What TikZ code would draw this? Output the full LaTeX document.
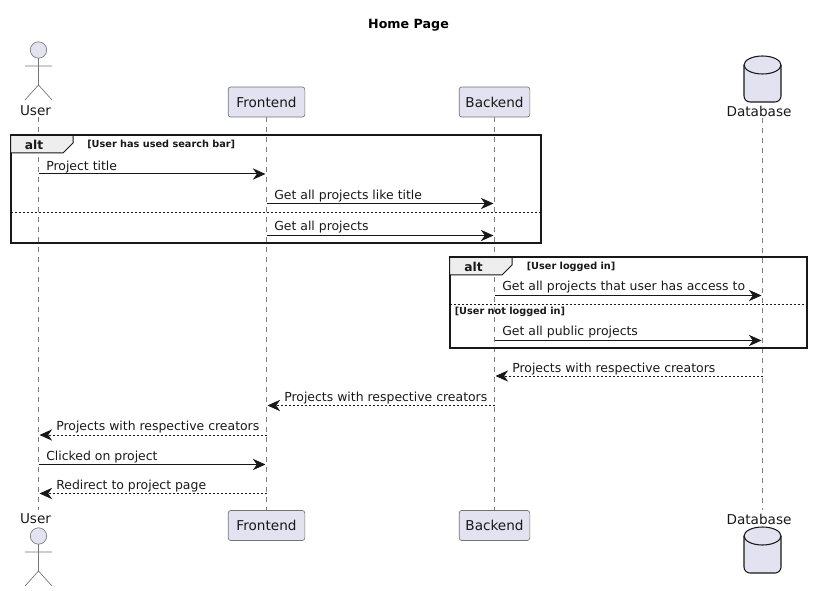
\documentclass[tikz,border=0pt]{standalone}
\usepackage{fontspec}
\setmainfont{DejaVu Sans}
\usetikzlibrary{arrows.meta,positioning}
\definecolor{Lilac}{HTML}{E2E2F0}
\definecolor{Ink}{HTML}{181818}
\definecolor{TabGrey}{HTML}{EEEEEE}
\begin{document}
\begin{tikzpicture}[x=0.75pt,y=-0.75pt,
  part/.style={rounded corners=2pt, fill=Lilac, draw=Ink!60, line width=0.5pt,
               minimum height=22.6pt, inner sep=0pt,
               font=\fontsize{10.2pt}{12pt}\selectfont, text=Ink},
  who/.style={inner sep=0pt, font=\fontsize{10.2pt}{12pt}\selectfont, text=Ink},
  body/.style={draw=Ink!60, line width=0.5pt},
  drum/.style={draw=Ink, fill=Lilac, line width=0.8pt},
  life/.style={draw=Ink!55, line width=0.5pt, dash pattern=on 3.75pt off 3.75pt},
  msg/.style={draw=Ink, line width=0.75pt, shorten >=0.75pt,
              -{Stealth[length=9.5pt,width=8.5pt,inset=3pt]}},
  back/.style={msg, dash pattern=on 1.5pt off 1.5pt},
  lbl/.style={anchor=base west, inner sep=0pt,
              font=\fontsize{9.33pt}{11pt}\selectfont, text=Ink},
  frame/.style={draw=Ink, line width=1.5pt},
  tab/.style={draw=Ink, fill=TabGrey, line width=0.75pt},
  split/.style={draw=Ink, line width=0.6pt, dash pattern=on 1.5pt off 1.5pt},
  guard/.style={anchor=base west, inner sep=0pt,
                font=\fontsize{7.3pt}{9pt}\selectfont\bfseries, text=Ink},
  altname/.style={inner sep=0pt, font=\fontsize{9.2pt}{11pt}\selectfont\bfseries, text=Ink}]
  \useasboundingbox (0,0) rectangle (813,591);
  \node[font=\fontsize{9.5pt}{11pt}\selectfont\bfseries, text=black] (title) at (408.5,25) {Home Page};

  % heads
  \node[who] (userTag) at (35.5,111) {User};
  \node[part, minimum width=57.5pt] (frontTag) at (266.5,102) {Frontend};
  \node[part, minimum width=53pt] (backTag) at (494.5,102) {Backend};
  \node[who] (dbTag) at (759,111) {Database};
  % feet
  \node[who] (userEnd) at (35.5,519) {User};
  \node[part, minimum width=57.5pt] (frontEnd) at (266.5,525.5) {Frontend};
  \node[part, minimum width=53pt] (backEnd) at (494.5,525.5) {Backend};
  \node[who] (dbEnd) at (759,519) {Database};

  % lifelines
  \coordinate (userTop) at (38.5,117);
  \coordinate (userBot) at (38.5,510);
  \coordinate (dbTop) at (762.5,118);
  \coordinate (dbBot) at (762.5,510);
  \draw[life] (userTop) -- (userBot);
  \draw[life] (frontTag.south) -- (frontEnd.north);
  \draw[life] (backTag.south) -- (backEnd.north);
  \draw[life] (dbTop) -- (dbBot);

  % actors
  \foreach \yy in {50,536}{
    \draw[body, fill=Lilac] (38.5,\yy) circle (8.2);
    \draw[body] (38.5,\yy+8.2) -- (38.5,\yy+35) (25,\yy+16) -- (52,\yy+16)
                (25,\yy+50) -- (38.5,\yy+35) -- (52,\yy+50);
  }
  % databases
  \foreach \yy in {56,527}{
    \draw[drum] (744,\yy+9) arc[start angle=180, end angle=360, x radius=18.5, y radius=9]
                -- (781,\yy+40) arc[start angle=0, end angle=90, x radius=6, y radius=6]
                -- (750,\yy+46) arc[start angle=90, end angle=180, x radius=6, y radius=6] -- cycle;
    \draw[drum, fill=none] (744,\yy+9) arc[start angle=180, end angle=0, x radius=18.5, y radius=9];
  }

  % first alt
  \draw[frame] (10.5,135.5) rectangle (540.5,243.5);
  \draw[split] (10.5,212) -- (540.5,212);
  \draw[tab] (10.5,135.5) -- (73,135.5) -- (73,143) -- (63,153) -- (10.5,153) -- cycle;
  \node[altname] (altA) at (34,145) {alt};
  \node[guard] (guardA) at (87,148) {[User has used search bar]};

  % second alt
  \draw[frame] (449.5,257.5) rectangle (807,348);
  \draw[split] (449.5,304) -- (807,304);
  \draw[tab] (449.5,257.5) -- (512,257.5) -- (512,265) -- (502,275) -- (449.5,275) -- cycle;
  \node[altname] (altB) at (473.5,267) {alt};
  \node[guard] (guardB) at (526.5,270) {[User logged in]};
  \node[guard] (guardC) at (454.5,315) {[User not logged in]};

  % rows
  \coordinate (m1) at (0,174);
  \coordinate (m2) at (0,203.5);
  \coordinate (m3) at (0,235.5);
  \coordinate (m4) at (0,295.5);
  \coordinate (m5) at (0,340.5);
  \coordinate (m6) at (0,376);
  \coordinate (m7) at (0,405.5);
  \coordinate (m8) at (0,435);
  \coordinate (m9) at (0,464.5);
  \coordinate (m10) at (0,493.5);

  \draw[msg] (userTop |- m1) -- (frontTag |- m1);
  \draw[msg] (frontTag |- m2) -- (backTag |- m2);
  \draw[msg] (frontTag |- m3) -- (backTag |- m3);
  \draw[msg] (backTag |- m4) -- (dbTop |- m4);
  \draw[msg] (backTag |- m5) -- (dbTop |- m5);
  \draw[back] (dbTop |- m6) -- (backTag |- m6);
  \draw[back] (backTag |- m7) -- (frontTag |- m7);
  \draw[back] (frontTag |- m8) -- (userTop |- m8);
  \draw[msg] (userTop |- m9) -- (frontTag |- m9);
  \draw[back] (frontTag |- m10) -- (userTop |- m10);

  \node[lbl] (t1) at (46,170.5) {Project title};
  \node[lbl] (t2) at (274,200) {Get all projects like title};
  \node[lbl] (t3) at (274,230.5) {Get all projects};
  \node[lbl] (t4) at (502,291) {Get all projects that user has access to};
  \node[lbl] (t5) at (502,335.5) {Get all public projects};
  \node[lbl] (t6) at (512,372) {Projects with respective creators};
  \node[lbl] (t7) at (284,401) {Projects with respective creators};
  \node[lbl] (t8) at (56,430.5) {Projects with respective creators};
  \node[lbl] (t9) at (46,460) {Clicked on project};
  \node[lbl] (t10) at (56,489) {Redirect to project page};
\end{tikzpicture}
\end{document}
